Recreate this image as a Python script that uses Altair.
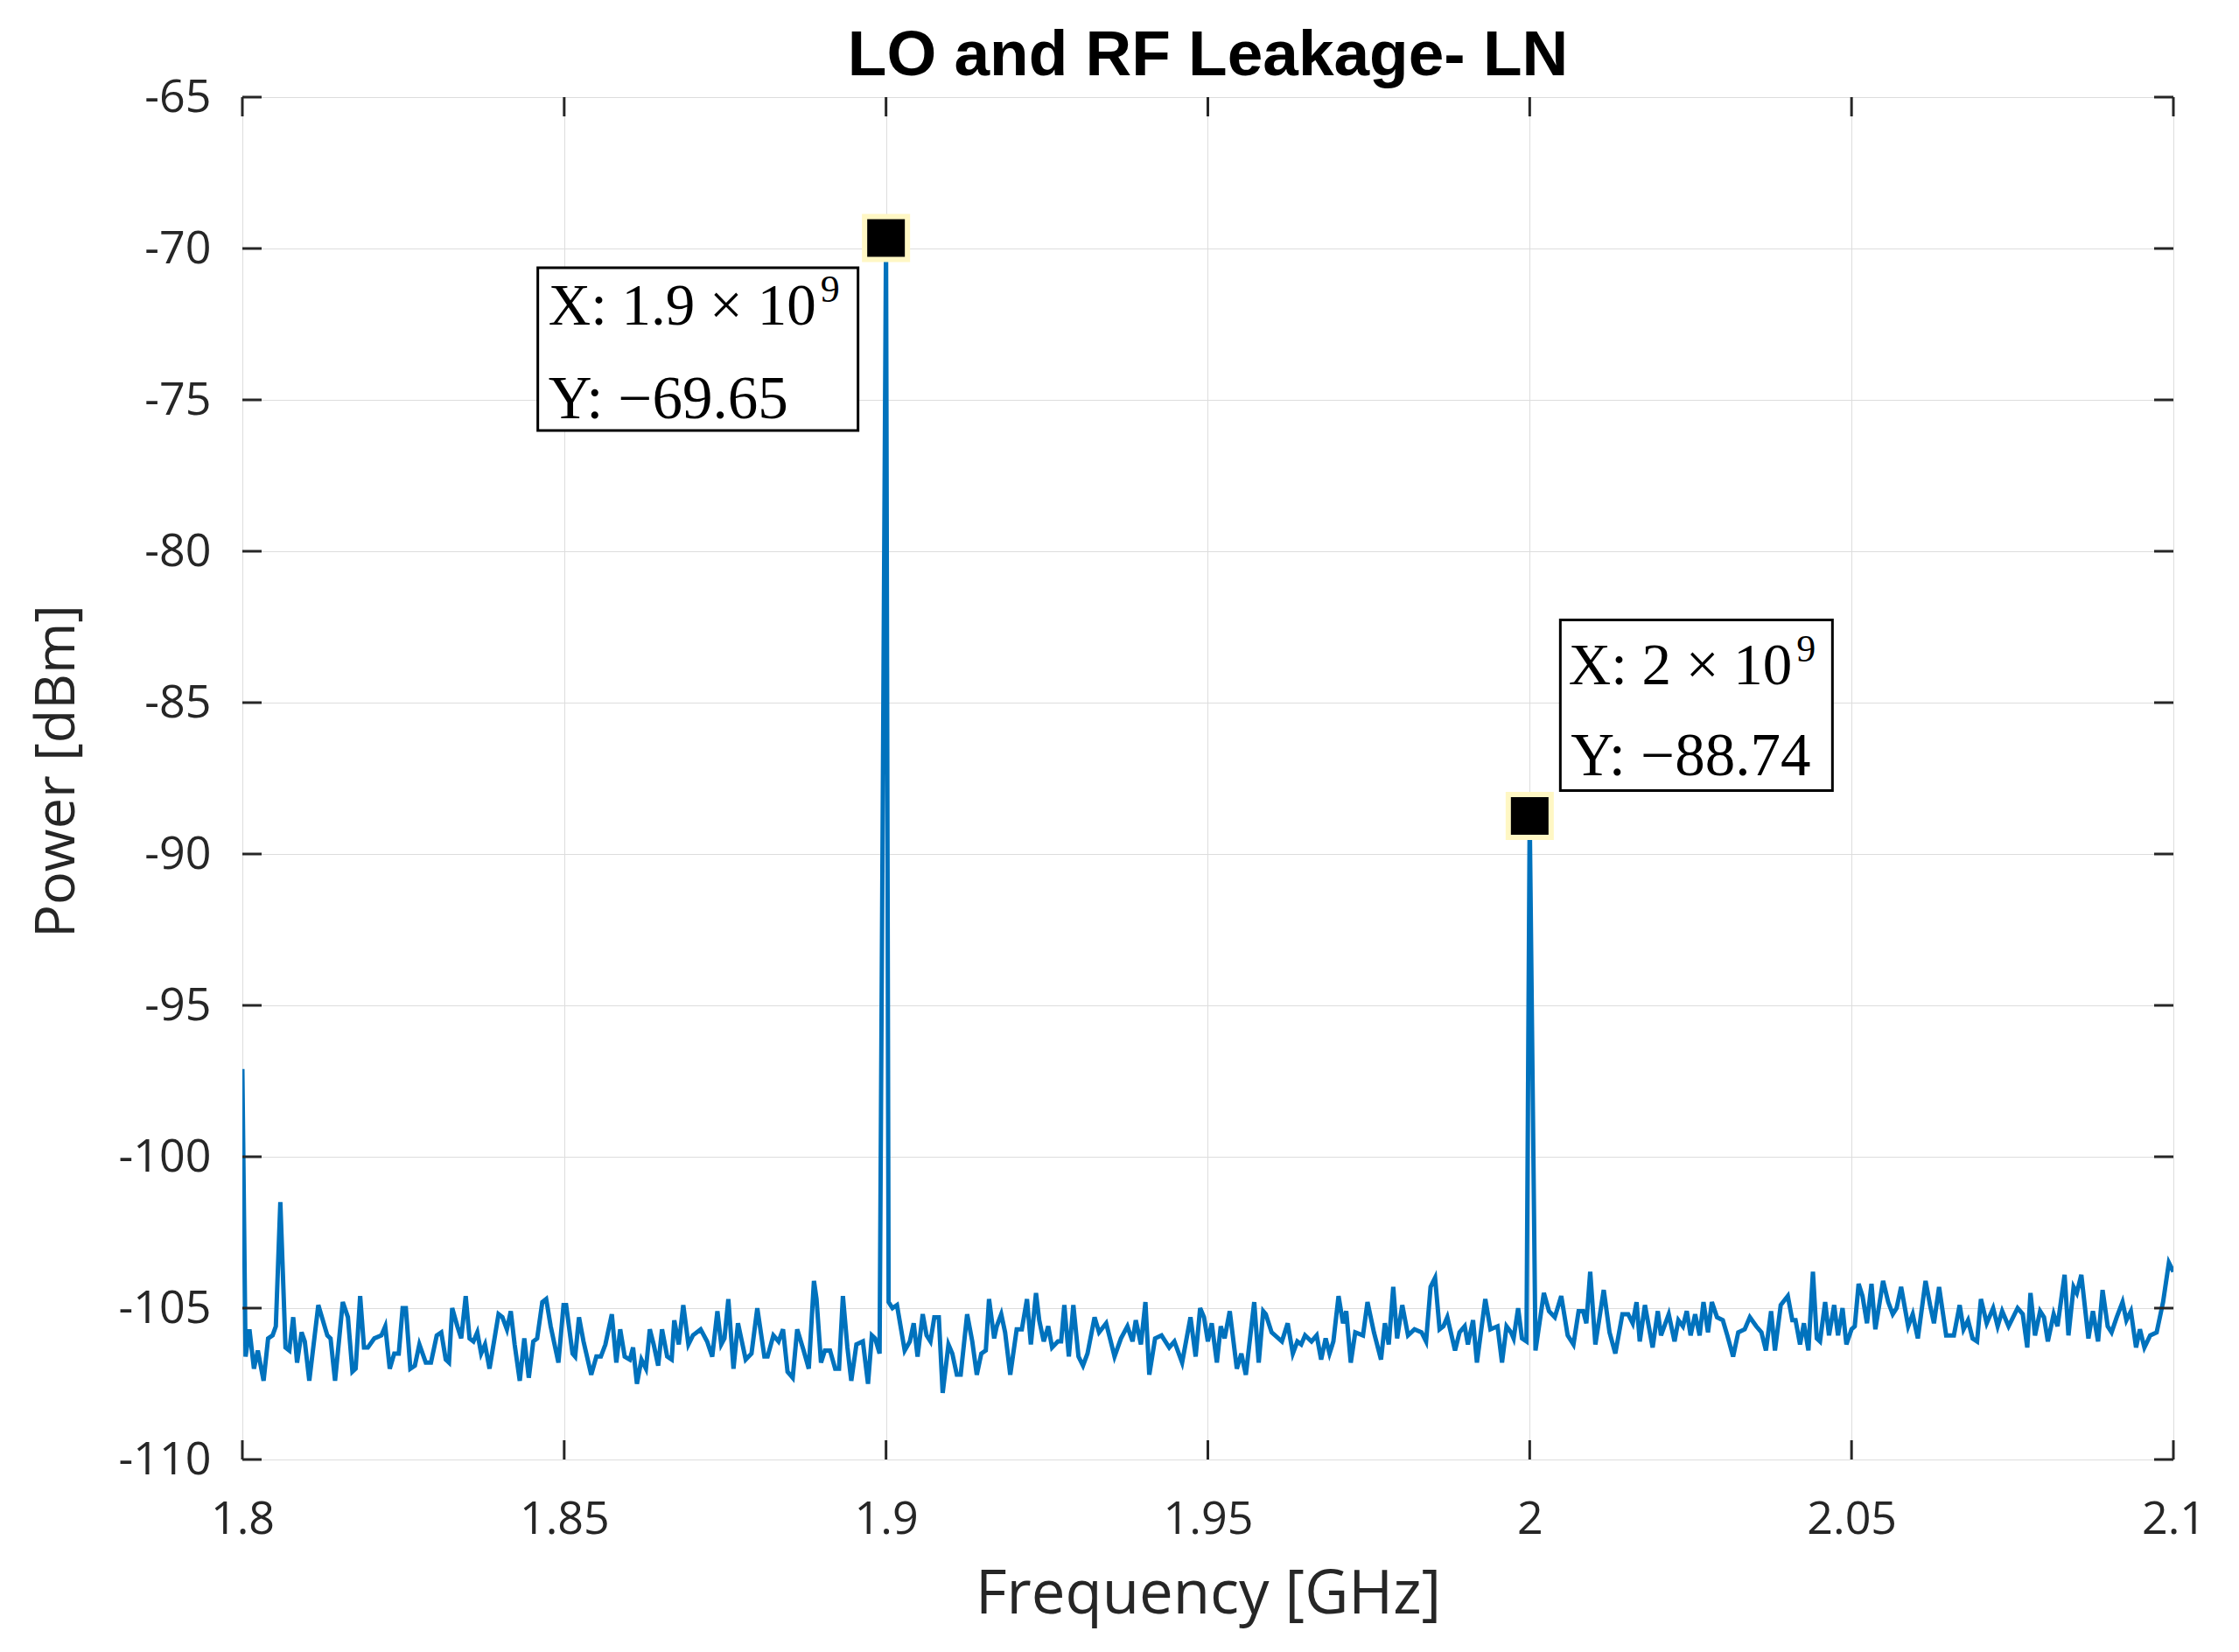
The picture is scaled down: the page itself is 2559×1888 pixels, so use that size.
import altair as alt
import pandas as pd

# ---------------- data ----------------
F_START_GHZ = 1.8
# frequency offsets from 1.8 GHz, in MHz
freq_offset_mhz = [
    0.0, 0.5, 1.1, 1.8, 2.4, 3.3, 4.0, 4.7, 5.2, 5.9, 6.7, 7.3, 7.9, 8.5, 9.2, 9.7,
    10.4, 11.8, 13.2, 13.7, 14.4, 15.6, 16.4, 17.1, 17.6, 18.3, 18.9, 19.5, 20.5,
    21.6, 22.2, 22.9, 23.6, 24.3, 24.9, 25.4, 26.1, 26.8, 27.5, 28.5, 29.3, 30.2,
    30.9, 31.6, 32.1, 32.6, 33.4, 34.0, 34.7, 35.3, 35.9, 36.5, 37.1, 37.7, 38.4,
    39.8, 40.4, 41.1, 41.7, 42.3, 43.1, 43.8, 44.5, 45.2, 45.8, 46.6, 47.2, 47.9,
    49.1, 49.9, 50.3, 51.3, 51.7, 52.3, 53.0, 54.2, 55.0, 55.7, 56.4, 57.4, 58.1,
    58.7, 59.4, 60.2, 60.7, 61.3, 62.0, 62.7, 63.3, 63.9, 64.6, 65.2, 66.0, 66.7,
    67.1, 67.8, 68.5, 69.3, 70.0, 71.2, 72.2, 73.0, 73.8, 74.4, 74.9, 75.5,
    76.3, 77.0, 78.2, 79.1, 80.0, 81.1, 81.6, 82.5, 83.3, 84.0, 84.7, 85.5, 86.2,
    87.2, 88.0, 88.8, 89.2, 89.9, 90.5, 91.3, 92.1, 92.7, 93.3, 94.0, 94.6, 95.4,
    96.4, 97.2, 97.8, 98.3, 99.0, 100.0, 100.4, 101.0, 101.7, 102.9, 103.7, 104.3,
    104.9, 105.7, 106.3, 106.9, 107.5, 108.2, 108.8, 109.7, 110.3, 111.0, 111.6,
    112.6, 113.4, 114.1, 114.8, 115.5, 116.0, 116.8, 117.2, 117.9, 118.5, 119.3,
    120.3, 121.1, 121.9, 122.5, 123.3, 123.8, 124.5, 125.2, 125.8, 126.7, 127.2,
    127.7, 128.4, 129.1, 129.9, 130.6, 131.3, 132.4, 133.1, 134.2, 135.5, 136.5,
    137.5, 138.3, 138.8, 139.6, 140.3, 140.9, 141.8, 142.8, 144.0, 144.8, 146.0,
    147.3, 148.1, 148.8, 149.4,
    150.0, 150.6, 151.4, 152.0, 152.6, 153.4, 154.5, 155.2, 155.9, 157.2, 157.9,
    158.6, 159.0, 159.9, 161.5, 162.4, 163.2, 163.9, 164.5, 165.1, 166.1, 166.9,
    167.6, 168.3, 168.9, 169.5, 170.3, 171.0, 171.5, 172.2, 172.9, 174.1, 174.8,
    175.8, 176.9, 177.5, 178.1, 178.8, 179.4, 180.2, 181.1, 182.1, 183.2, 183.9,
    184.6, 185.3, 186.0, 186.6, 187.2, 188.4, 189.1, 189.9, 190.4, 191.2, 191.8,
    193.1, 193.9, 195.0, 195.7, 196.4, 197.1, 197.5, 198.2, 198.8, 199.5, 200.0,
    200.9, 202.2, 203.0, 203.9, 204.9, 205.9, 206.8, 207.6, 208.3, 208.8, 209.4,
    210.2, 211.5, 212.4, 213.3, 214.4, 215.3, 216.0, 216.6, 217.1, 217.9, 219.1,
    219.9, 220.4, 221.6, 222.5, 223.1, 223.8, 224.4,
    225.0, 225.7, 226.4, 227.0, 227.7, 228.3, 229.1, 230.0, 230.7, 231.6, 232.4,
    233.4, 234.2, 235.2, 236.0, 236.7, 237.5, 238.1, 239.0, 240.1, 240.8, 241.3,
    242.0, 242.6, 243.3, 244.0, 244.6, 245.1, 245.9, 246.5, 247.3, 247.9, 248.6,
    249.2, 250.0, 250.5, 251.1, 251.7, 252.4, 253.1, 253.7, 254.9, 255.7, 256.4,
    257.0, 257.7, 258.8, 259.5, 260.3, 261.5, 262.2, 262.8, 263.6, 264.7, 265.9,
    266.8, 267.4, 268.1, 268.8, 269.5, 270.1, 271.0, 272.0, 272.7, 273.4, 274.4,
    275.8, 276.6, 277.3, 277.8, 278.5, 279.3, 279.9, 280.5, 281.4, 282.0, 283.1,
    283.7, 284.5, 285.0, 285.7, 286.8, 287.5, 288.3, 289.0, 289.8, 290.4, 291.2,
    292.1, 292.7, 293.4, 294.2, 294.8, 295.5, 296.4, 297.4, 298.4, 299.3, 300.0,
]
power_dbm = [
    -97.1, -106.6, -105.7, -107.0, -106.4, -107.4, -106.0, -105.9, -105.6, -101.5,
    -106.3, -106.4, -105.3, -106.8, -105.8, -106.1,
    -107.4, -104.9, -105.9, -106.0, -107.4, -104.8, -105.3, -107.1, -107.0, -104.6,
    -106.3, -106.3, -106.0, -105.9, -105.6, -107.0, -106.5, -106.5, -105.0, -105.0,
    -107.0, -106.9, -106.2, -106.8, -106.8, -105.9, -105.8, -106.7, -106.8, -105.0,
    -105.6, -106.0, -104.6, -106.0, -106.1, -105.8, -106.5, -106.2, -107.0,
    -105.2, -105.3, -105.7, -105.1, -106.2, -107.4, -106.0, -107.3, -106.1, -106.0,
    -104.8, -104.7, -105.6, -106.8, -104.9, -104.9, -106.5, -106.6, -105.3, -106.1,
    -107.2, -106.6, -106.6, -106.2, -105.2, -106.8, -105.7, -106.6, -106.7, -106.3,
    -107.5, -106.7, -107.0, -105.7, -106.2, -106.9, -105.7, -106.6, -106.7,
    -105.4, -106.2, -104.9, -106.2, -105.9, -105.7, -106.1, -106.6, -105.1, -106.2,
    -106.0, -104.7,
    -107.0, -105.5, -106.7, -106.5, -105.0, -106.6, -106.6, -105.9, -106.1, -105.7,
    -107.1, -107.3, -105.7, -106.4, -107.0, -104.1, -104.7, -106.8, -106.4, -106.4,
    -107.0, -107.0, -104.6, -106.3, -107.4, -106.2, -106.1, -107.5, -105.9, -106.0,
    -106.5, -69.65, -104.8, -105.0, -104.9, -106.4, -106.1, -105.5,
    -106.6, -105.2, -105.9, -106.1, -105.3, -105.3, -107.8, -106.2, -106.5, -107.2,
    -107.2, -105.2, -106.1, -107.2, -106.5, -106.4, -104.7, -106.0, -105.6, -105.2,
    -105.8, -107.2, -105.7, -105.7, -104.7, -106.2, -104.5, -105.4, -106.1, -105.6,
    -106.3, -106.1, -106.1, -104.9, -106.6, -104.9, -106.6, -106.9, -106.5, -105.3,
    -105.8, -105.5, -106.6, -106.0, -105.6, -106.1, -105.4, -106.2, -104.8, -107.2,
    -106.0, -105.9, -106.3, -106.1, -106.8, -105.3, -106.6, -105.0, -105.3,
    -106.1, -105.5, -106.8, -105.6, -106.0, -105.1, -107.0, -106.5, -107.2, -104.8,
    -106.8, -105.1, -105.2, -105.8, -106.1, -105.5, -106.5, -106.1, -106.2, -105.9,
    -106.1, -105.9, -106.7, -106.0, -106.5, -106.1, -104.6, -105.5, -105.1, -106.8,
    -105.8, -105.9, -104.8, -105.8, -106.7, -105.5, -106.2, -104.3, -106.0, -104.9,
    -105.9, -105.7, -105.8, -106.1, -104.3, -104.0, -105.7, -105.6, -105.3, -106.4,
    -105.8, -105.6, -106.2, -105.4, -106.8, -104.7, -105.7, -105.6, -106.8, -105.6,
    -105.8, -106.0, -105.0, -106.0, -106.1, -88.74,
    -106.4, -104.5, -105.1, -105.3, -104.6, -105.9, -106.2, -105.1, -105.1, -105.5,
    -103.8, -106.2, -104.4, -105.8, -106.5, -105.2, -105.2, -105.5, -104.8, -106.1,
    -104.9, -106.3, -105.1, -105.9, -105.2, -106.1, -105.4, -105.6, -105.1,
    -105.9, -105.2, -105.9, -104.8, -105.8, -104.8, -105.3, -105.4, -105.9, -106.6,
    -105.8, -105.7, -105.3, -105.6, -105.8, -106.4, -105.1, -106.4, -104.9, -104.6,
    -105.4, -105.4, -106.2, -105.5, -106.4, -103.8, -106.0, -106.1, -104.8, -105.9,
    -104.9, -105.9, -105.0, -106.2, -105.7, -105.6, -104.2, -104.6, -105.5, -104.2,
    -105.7, -104.1, -104.8, -105.2, -105.0, -104.3, -105.6, -105.2, -106.0, -104.1,
    -104.9, -105.5, -104.3, -105.9, -105.9, -104.9, -105.7, -105.4, -106.0, -106.1,
    -104.7, -105.5, -105.0, -105.6, -105.1, -105.6, -105.0, -105.2, -106.3, -104.5,
    -105.9, -105.1, -105.3, -106.1, -105.2, -105.6, -103.9, -105.9, -104.3, -104.5,
    -103.9, -106.0, -105.1, -106.1, -104.4, -105.6, -105.8, -105.3, -104.8, -105.4,
    -105.1, -106.3, -105.7, -106.3, -105.9, -105.8, -104.8, -103.5, -103.8,
]

# data tips
peak_freq_ghz = [1.9, 2.0]
peak_power_dbm = [-69.65, -88.74]
peak_x_mantissa = ["1.9", "2"]
peak_x_exponent = ["9", "9"]

x_ticks = [1.8, 1.85, 1.9, 1.95, 2.0, 2.05, 2.1]
y_ticks = [-110, -105, -100, -95, -90, -85, -80, -75, -70, -65]

TITLE = "LO and RF Leakage- LN"
X_TITLE = "Frequency [GHz]"
Y_TITLE = "Power [dBm]"

# ---------------- tables ----------------
df_line = pd.DataFrame({
    "freq": [F_START_GHZ + m / 1000.0 for m in freq_offset_mhz],
    "power": power_dbm,
})

W, H = 2207, 1557
LINE_COLOR = "#0072BD"
AXIS_COLOR = "#262626"
TICK_FONT = "Open Sans"
TIP_FONT = "Liberation Serif"

x_scale = alt.Scale(domain=[1.8, 2.1], nice=False, zero=False)
y_scale = alt.Scale(domain=[-110, -65], nice=False, zero=False)

x_axis = alt.Axis(
    values=x_ticks, title=X_TITLE, grid=True, ticks=False, tickSize=0, domain=False,
    labelExpr="'' + datum.value", labelFont=TICK_FONT, labelFontSize=52,
    labelColor=AXIS_COLOR, labelPadding=84, labelBaseline="alphabetic",
    labelFlush=False, labelOverlap=False,
    titleFont=TICK_FONT, titleFontSize=69, titleFontWeight="normal",
    titleColor=AXIS_COLOR, titleY=175, titleBaseline="alphabetic",
)
y_axis = alt.Axis(
    values=y_ticks, title=Y_TITLE, grid=True, ticks=False, tickSize=0, domain=False,
    labelExpr="'' + datum.value", labelFont=TICK_FONT, labelFontSize=52,
    labelColor=AXIS_COLOR, labelPadding=36, labelOverlap=False,
    titleFont=TICK_FONT, titleFontSize=63, titleFontWeight="normal",
    titleColor=AXIS_COLOR, titleX=-212, titleY=770, titleBaseline="middle",
    titleAngle=270,
)


def X(field="freq"):
    return alt.X(f"{field}:Q", scale=x_scale, axis=x_axis)


def Y(field="power"):
    return alt.Y(f"{field}:Q", scale=y_scale, axis=y_axis)


line = alt.Chart(df_line).mark_line(
    color=LINE_COLOR, strokeWidth=5, strokeJoin="miter", clip=True
).encode(x=X(), y=Y())

# inward tick marks on all four sides
TICK_LEN = 22
df_yt = pd.DataFrame({"power": y_ticks})
df_xt = pd.DataFrame({"freq": x_ticks})
tick_style = dict(color=AXIS_COLOR, strokeWidth=3)
ticks_left = alt.Chart(df_yt).mark_rule(**tick_style).encode(
    x=alt.value(0), x2=alt.value(TICK_LEN), y=Y())
ticks_right = alt.Chart(df_yt).mark_rule(**tick_style).encode(
    x=alt.value(W - TICK_LEN), x2=alt.value(W), y=Y())
ticks_bottom = alt.Chart(df_xt).mark_rule(**tick_style).encode(
    x=X(), y=alt.value(H - TICK_LEN), y2=alt.value(H))
ticks_top = alt.Chart(df_xt).mark_rule(**tick_style).encode(
    x=X(), y=alt.value(0), y2=alt.value(TICK_LEN))

# chart title drawn as a text mark above the plot frame
df_title = pd.DataFrame({"title": [TITLE]})
title_mark = alt.Chart(df_title).mark_text(
    align="center", baseline="alphabetic", font="Liberation Sans",
    fontSize=73, fontWeight="bold", color="black",
).encode(x=alt.value(W / 2), y=alt.value(-25), text="title:N")

# data tips
tip_layout = [
    # box offsets (left, right, top, bottom), X text (right dx, dy), exponent (dx, dy), Y text (left dx, dy)
    dict(box=(-398, -32, 34, 220), xt=(-80, 99), ex=(-75, 73), yt=(-386, 206)),
    dict(box=(35, 346, -224, -29), xt=(300, -150), ex=(305, -176), yt=(47, -46)),
]

tip_layers = []
for i, lay in enumerate(tip_layout):
    df_tip = pd.DataFrame({
        "freq": [peak_freq_ghz[i]],
        "power": [peak_power_dbm[i]],
        "xlabel": [f"X: {peak_x_mantissa[i]} \u00d7 10"],
        "xexp": [peak_x_exponent[i]],
        "ylabel": ["Y: \u2212" + f"{abs(peak_power_dbm[i]):.2f}"],
    })
    l, r, t, b = lay["box"]
    box = alt.Chart(df_tip).mark_rect(
        fill="white", stroke="black", strokeWidth=3,
        xOffset=l, x2Offset=r, yOffset=t, y2Offset=b,
    ).encode(x=X(), x2="freq:Q", y=Y(), y2="power:Q")
    marker = alt.Chart(df_tip).mark_point(
        shape="square", size=2401, fill="black", fillOpacity=1, opacity=1,
        stroke="#fff7c4", strokeWidth=6,
    ).encode(x=X(), y=Y())
    txt_x = alt.Chart(df_tip).mark_text(
        align="right", baseline="alphabetic", dx=lay["xt"][0], dy=lay["xt"][1],
        font=TIP_FONT, fontSize=67, color="black",
    ).encode(x=X(), y=Y(), text="xlabel:N")
    txt_e = alt.Chart(df_tip).mark_text(
        align="left", baseline="alphabetic", dx=lay["ex"][0], dy=lay["ex"][1],
        font=TIP_FONT, fontSize=44, color="black",
    ).encode(x=X(), y=Y(), text="xexp:N")
    txt_y = alt.Chart(df_tip).mark_text(
        align="left", baseline="alphabetic", dx=lay["yt"][0], dy=lay["yt"][1],
        font=TIP_FONT, fontSize=69, color="black",
    ).encode(x=X(), y=Y(), text="ylabel:N")
    tip_layers += [marker, box, txt_x, txt_e, txt_y]

chart = alt.layer(
    line, ticks_left, ticks_right, ticks_bottom, ticks_top, title_mark, *tip_layers
).properties(
    width=W,
    height=H,
    autosize=alt.AutoSizeParams(type="none"),
    padding={"left": 269, "top": 103, "right": 55, "bottom": 200},
).configure_view(
    stroke=AXIS_COLOR, strokeWidth=4, fill="white",
).configure_axis(
    gridColor="#e0e0e0", gridWidth=3, gridOpacity=1,
).configure(background="white")

chart.save("out.html", embed_options={"renderer": "svg", "actions": False})
